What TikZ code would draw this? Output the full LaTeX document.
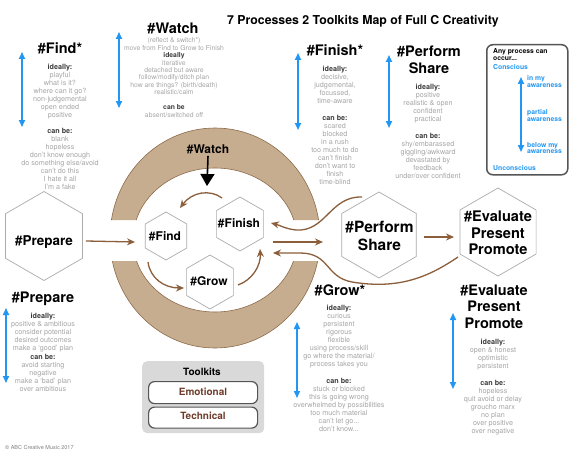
\documentclass[tikz,border=0pt]{standalone}
\usepackage{fontspec}
\setmainfont{TeX Gyre Heros}
\usetikzlibrary{shapes.geometric,arrows.meta}
\definecolor{ringfill}{HTML}{C7AD8F}
\definecolor{ringedge}{HTML}{8C6B4A}
\definecolor{brownarrow}{HTML}{8B5E3C}
\definecolor{bluearrow}{HTML}{2196F3}
\definecolor{softgray}{HTML}{A6A6A6}
\definecolor{labelgray}{HTML}{3A3A3A}
\definecolor{toolbrown}{HTML}{6E3B2A}
\definecolor{hexgray}{HTML}{ABABAB}
\definecolor{boxgray}{HTML}{D9D9D9}
\definecolor{boxedge}{HTML}{555555}
\newcommand\lblx[1]{\textcolor{labelgray}{\bfseries #1}}
\begin{document}
\begin{tikzpicture}[x=1pt,y=-1pt,
  ttl/.style={font=\fontsize{14.5}{16.5}\selectfont\bfseries, text=black, align=center, inner sep=0pt},
  body/.style={font=\fontsize{7.2}{8}\selectfont, text=softgray, align=center, inner sep=0pt, anchor=north},
  hexa/.style={regular polygon, regular polygon sides=6, shape border rotate=30, draw=hexgray, line width=0.7pt, fill=white, inner sep=0pt},
  hextxt/.style={font=\fontsize{12}{14}\selectfont\bfseries, inner sep=0pt, anchor=base},
  barrow/.style={draw=brownarrow, line width=1.3pt, -{Stealth[length=8pt,width=7pt]}},
  bluearr/.style={draw=bluearrow, line width=1.6pt, {Triangle[length=7pt,width=6pt]}-{Triangle[length=7pt,width=6pt]}},
  boxtxt/.style={font=\fontsize{6.8}{6.8}\selectfont\bfseries, inner sep=0pt, anchor=north west, align=left},
  toolbox/.style={draw=boxedge, line width=1.2pt, fill=white, rounded corners=6pt}
]
\path[use as bounding box, fill=white] (0,0) rectangle (573,460);

% title
\node[font=\fontsize{12.3}{14}\selectfont\bfseries, inner sep=0pt, anchor=base] (title) at (363,25) {7 Processes 2 Toolkits Map of Full C Creativity};

% ring
\begin{scope}
  \clip (0,0) rectangle (573,220) (0,261) rectangle (573,460);
  \fill[ringfill, even odd rule] (215,238) ellipse (105 and 110) (215,240) ellipse (82 and 72);
  \draw[ringedge, line width=0.6pt] (215,238) ellipse (105 and 110) (215,240) ellipse (82 and 72);
\end{scope}

% hexagons
\node[hexa, minimum size=89pt] (prepare) at (44,236) {};
\node[hexa, minimum size=48pt] (find) at (166,236) {};
\node[hexa, minimum size=54pt] (finish) at (240,224) {};
\node[hexa, minimum size=54pt] (grow) at (210,282) {};
\node[hexa, minimum size=86pt] (perform) at (379,235) {};
\node[hexa, minimum size=88pt] (evaluate) at (498,232) {};

\node[hextxt, font=\fontsize{13.5}{15}\selectfont\bfseries] (preparetxt) at (44,245) {\#Prepare};
\node[hextxt] (findtxt) at (165,240) {\#Find};
\node[hextxt] (finishtxt) at (239,227.7) {\#Finish};
\node[hextxt] (growtxt) at (209,285.7) {\#Grow};
\node[font=\fontsize{15.5}{18}\selectfont\bfseries, align=center, inner sep=0pt, anchor=north] (performtxt) at (379.5,221) {\#Perform\\Share};
\node[font=\fontsize{14.6}{16.5}\selectfont\bfseries, align=center, inner sep=0pt, anchor=north] (evaluatetxt) at (498,211) {\#Evaluate\\Present\\Promote};

% watch in ring
\node[hextxt] (watchring) at (208,153.3) {\#Watch};
\coordinate (watchtip) at (207,186);
\draw[line width=1.6pt, -{Triangle[length=12pt,width=14pt]}] ([yshift=-2pt]watchring.south) -- (watchtip);

% inner curved arrows
\coordinate (c1s) at (222,198); \coordinate (c1e) at (180,208);
\coordinate (c2s) at (148,262); \coordinate (c2e) at (184,288);
\coordinate (c3s) at (238,285); \coordinate (c3e) at (260,249);
\draw[barrow] (c1s) .. controls (210,189) and (192,192) .. (c1e);
\draw[barrow] (c2s) .. controls (150,278) and (164,288) .. (c2e);
\draw[barrow] (c3s) .. controls (252,280) and (261,266) .. (c3e);

% straight / connecting arrows
\coordinate (inA) at (135,242);
\draw[barrow] ([shift={(3,5)}]prepare.east) -- (inA);
\coordinate (outS) at (273,242); \coordinate (outE) at (323,242);
\draw[barrow] (outS) -- (outE);
\coordinate (pfS) at (362,197); \coordinate (pfE) at (271,223);
\draw[barrow] (pfS) .. controls (330,196) and (326,232) .. (296,230) .. controls (286,229) and (279,225) .. (pfE);
\coordinate (evS) at (458,257); \coordinate (evE) at (273,253);
\draw[barrow] (evS) .. controls (430,276) and (400,290) .. (352,282) .. controls (325,277) and (330,253) .. (300,253) -- (evE);
\coordinate (peS) at (424,237); \coordinate (peE) at (454,237);
\draw[barrow] (peS) -- (peE);

% titles
\node[ttl, anchor=base] (findT) at (60,53.3) {\#Find*};
\node[ttl, anchor=base] (watchT) at (173,33.5) {\#Watch};
\node[ttl, anchor=base] (finishT) at (335,56) {\#Finish*};
\node[ttl, anchor=north] (performT) at (429,46) {\#Perform\\Share};
\node[ttl, anchor=base] (prepareT) at (43,302.7) {\#Prepare};
\node[ttl, anchor=base] (growT) at (340,295) {\#Grow*};
\node[ttl, anchor=north] (evaluateT) at (494,284.5) {\#Evaluate\\Present\\Promote};

% bodies
\node[body] (findB) at (60,64) {\lblx{ideally:}\\playful\\what is it?\\where can it go?\\non-judgemental\\open ended\\positive\\[8pt]\lblx{can be:}\\blank\\hopeless\\don't know enough\\do something else/avoid\\can't do this\\I hate it all\\I'm a fake};
\node[body, font=\fontsize{6.8}{7.45}\selectfont] (watchB) at (174,37.5) {(reflect \& switch*)\\move from Find to Grow to Finish\\\lblx{ideally}\\iterative\\detached but aware\\follow/modify/ditch plan\\how are things? (birth/death)\\realistic/calm\\[7.5pt]\lblx{can be}\\absent/switched off};
\node[body] (finishB) at (335,66) {\lblx{ideally:}\\decisive,\\judgemental,\\focussed,\\time-aware\\[9pt]\lblx{can be:}\\scared\\blocked\\in a rush\\too much to do\\can't finish\\don't want to\\finish\\time-blind};
\node[body] (performB) at (428,84) {\lblx{ideally:}\\positive\\realistic \& open\\confident\\practical\\[9pt]\lblx{can be:}\\shy/embarassed\\giggling/awkward\\devastated by\\feedback\\under/over confident};
\node[body, font=\fontsize{7.2}{8.1}\selectfont] (prepareB) at (43,313) {\lblx{ideally:}\\positive \& ambitious\\consider potential\\desired outcomes\\make a `good' plan\\\lblx{can be:}\\avoid starting\\negative\\make a `bad' plan\\over ambitious};
\node[body] (growB) at (339,305) {\lblx{ideally:}\\curious\\persistent\\rigorous\\flexible\\using process/skill\\go where the material/\\process takes you\\[9pt]\lblx{can be:}\\stuck or blocked\\this is going wrong\\overwhelmed by possibilities\\too much material\\can't let go...\\don't know...};
\node[body] (evaluateB) at (493,339) {\lblx{ideally:}\\open \& honest\\optimistic\\persistent\\[9pt]\lblx{can be:}\\hopeless\\quit avoid or delay\\groucho marx\\no plan\\over positive\\over negative};

% blue arrows
\foreach \n/\x/\a/\b in {f/22/52/127, w/119/32/108, fi/298/53/130, p/389/55/128, a/521/77/152, pr/6/308/383, g/297/322/398, e/453/313/389}{
  \coordinate (\n top) at (\x,\a);
  \coordinate (\n bot) at (\x,\b);
  \draw[bluearr] (\n top) -- (\n bot);
}

% awareness box
\node[draw=boxedge, line width=1.5pt, rounded corners=6pt, minimum width=81pt, minimum height=130pt, anchor=north west, inner sep=0pt] (awbox) at (486,44) {};
\node[boxtxt] (aw1) at (493,48.5) {Any process can\\occur...};
\node[boxtxt, text=bluearrow] (aw2) at (493,64) {Conscious};
\node[boxtxt, text=bluearrow] (aw3) at (527,75) {in my\\awareness};
\node[boxtxt, text=bluearrow] (aw4) at (527,109) {partial\\awareness};
\node[boxtxt, text=bluearrow] (aw5) at (527,142) {below my\\awareness};
\node[boxtxt, text=bluearrow] (aw6) at (493,165) {Unconscious};

% toolkits
\node[fill=boxgray, rounded corners=5pt, minimum width=122pt, minimum height=72pt, anchor=north west, inner sep=0pt] (tkbox) at (142,361) {};
\node[font=\fontsize{10}{12}\selectfont\bfseries, inner sep=0pt, anchor=base] (tktitle) at (202,375) {Toolkits};
\node[toolbox, minimum width=109pt, minimum height=22pt, anchor=north west, inner sep=0pt] (emo) at (148,381) {};
\node[toolbox, minimum width=109pt, minimum height=21pt, anchor=north west, inner sep=0pt] (tech) at (148,406.5) {};
\node[font=\fontsize{10}{12}\selectfont\bfseries, text=toolbrown, inner sep=0pt, anchor=base] (emotxt) at (203,395) {Emotional};
\node[font=\fontsize{10}{12}\selectfont\bfseries, text=toolbrown, inner sep=0pt, anchor=base] (techtxt) at (203,419.3) {Technical};

% copyright
\node[font=\fontsize{5.5}{6}\selectfont, text=gray, inner sep=0pt, anchor=base west] (copy) at (5,449) {© ABC Creative Music 2017};
\end{tikzpicture}
\end{document}
